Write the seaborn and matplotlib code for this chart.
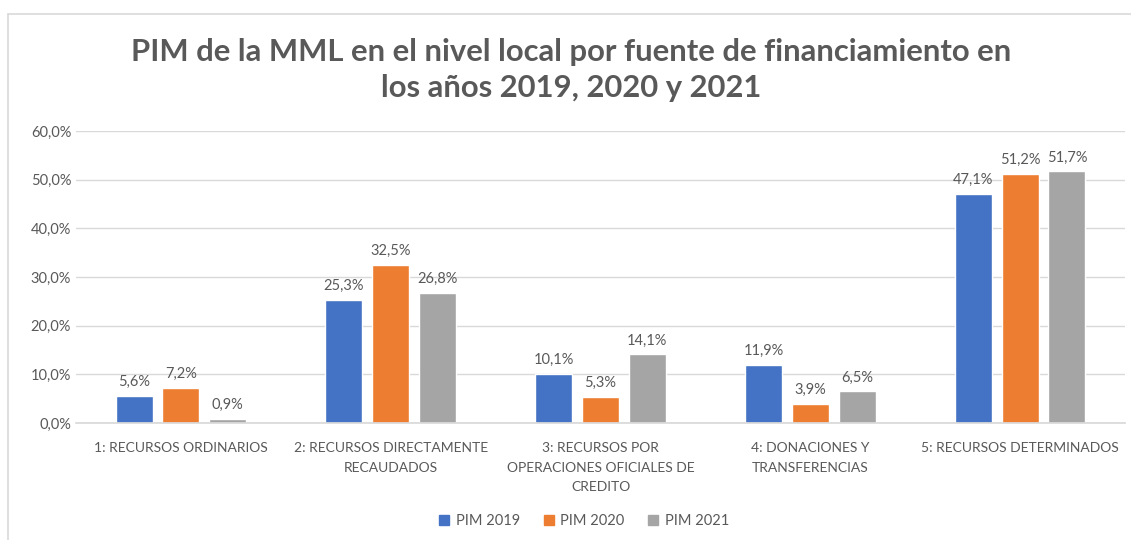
import matplotlib
matplotlib.use("Agg")
import matplotlib.pyplot as plt
import seaborn as sns
import pandas as pd
from matplotlib.lines import Line2D
from matplotlib.ticker import FuncFormatter

categories = ["1: RECURSOS ORDINARIOS",
              "2: RECURSOS DIRECTAMENTE\nRECAUDADOS",
              "3: RECURSOS POR\nOPERACIONES OFICIALES DE\nCREDITO",
              "4: DONACIONES Y\nTRANSFERENCIAS",
              "5: RECURSOS DETERMINADOS"]
series = ["PIM 2019", "PIM 2020", "PIM 2021"]
pim_2019 = [5.6, 25.3, 10.1, 11.9, 47.1]
pim_2020 = [7.2, 32.5, 5.3, 3.9, 51.2]
pim_2021 = [0.9, 26.8, 14.1, 6.5, 51.7]
colors = ["#4472C4", "#ED7D31", "#A5A5A5"]
title = "PIM de la MML en el nivel local por fuente de financiamiento en\nlos años 2019, 2020 y 2021"

rows = []
for s, vals in zip(series, [pim_2019, pim_2020, pim_2021]):
    for c, v in zip(categories, vals):
        rows.append({"cat": c, "serie": s, "val": v})
df = pd.DataFrame(rows)

sns.set_theme(style="white")
plt.rcParams["font.family"] = ["Lato", "DejaVu Sans"]
txt = "#595959"

fig = plt.figure(figsize=(11.31, 5.40), dpi=100)
ax = fig.add_axes([76/1131, 117/540, (1125-76)/1131, (423-131)/540])

sns.barplot(data=df, x="cat", y="val", hue="serie", palette=colors,
            width=0.67, gap=0.21, ax=ax, legend=False, saturation=1)

ax.set_ylim(0, 60)
ax.set_yticks(range(0, 61, 10))
ax.yaxis.set_major_formatter(FuncFormatter(lambda v, p: f"{v:.1f}%".replace(".", ",")))
ax.grid(axis="y", color="#D9D9D9", linewidth=1)
ax.set_axisbelow(True)
for sp in ["top", "right", "left"]:
    ax.spines[sp].set_visible(False)
ax.spines["bottom"].set_color("#D9D9D9")
ax.set_xlabel("")
ax.set_ylabel("")
ax.tick_params(axis="y", length=0, colors=txt, labelsize=10.5)
ax.tick_params(axis="x", length=0, colors=txt, labelsize=10, pad=14)
for lab in ax.get_xticklabels():
    lab.set_linespacing(1.75)

for cont in ax.containers:
    ax.bar_label(cont, labels=[f"{v:.1f}%".replace(".", ",") for v in cont.datavalues],
                 padding=5, color=txt, fontsize=10.5)

fig.text(0.5 + 6/1131, 1 - 70/540, title, ha="center", va="center",
         fontsize=22.3, fontweight="bold", color=txt, linespacing=1.35)

handles = [Line2D([], [], marker="s", linestyle="", markersize=6.5, color=c) for c in colors]
fig.legend(handles, series, loc="center", bbox_to_anchor=(583/1131, 1 - 521/540), ncol=3,
           frameon=False, fontsize=10.5, labelcolor=txt, handletextpad=0.3,
           handlelength=1.0, columnspacing=1.45)

fig.add_artist(Line2D([8/1131, 8/1131], [0, 1 - 14/540], transform=fig.transFigure,
                      color="#D9D9D9", linewidth=1.2))
fig.add_artist(Line2D([8/1131, 1], [1 - 14/540, 1 - 14/540], transform=fig.transFigure,
                      color="#D9D9D9", linewidth=1.2))

fig.savefig("out.png", dpi=100)
